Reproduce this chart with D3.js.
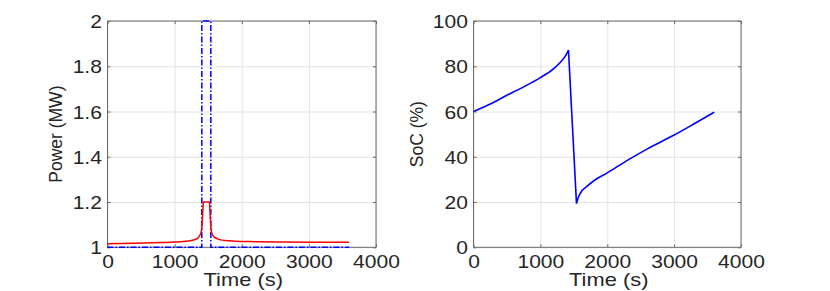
<!DOCTYPE html>
<html lang="en">
<head>
<meta charset="utf-8">
<title>Power and SoC</title>
<script src="https://cdn.jsdelivr.net/npm/d3@7"></script>
<style>
  body { margin: 0; background: #fff; }
  svg text { font-family: "Liberation Sans", Arial, sans-serif; fill: #262626; }
</style>
</head>
<body>
<script>
// tick labels
var timeTicks = [0, 1000, 2000, 3000, 4000];
var powerTicks = [1, 1.2, 1.4, 1.6, 1.8, 2];
var socTicks = [0, 20, 40, 60, 80, 100];

// red power curve
var powerTime = [0, 400, 800, 1000, 1200, 1300, 1350, 1380, 1400, 1410, 1428, 1520, 1535, 1545, 1560, 1590, 1650, 1750, 1900, 2200, 2600, 3000, 3600];
var powerRed  = [1.016, 1.018, 1.021, 1.023, 1.028, 1.034, 1.042, 1.055, 1.075, 1.11, 1.2, 1.2, 1.11, 1.075, 1.058, 1.045, 1.036, 1.030, 1.027, 1.025, 1.023, 1.022, 1.022];

// blue dash-dot power
var blueTime  = [0, 1405, 1405, 1539, 1539, 3600];
var powerBlue = [1, 1, 2, 2, 1, 1];

// state of charge
var socTime = [0, 250, 500, 750, 1000, 1200, 1300, 1380, 1420, 1540, 1570, 1600, 1700, 1800, 2000, 2300, 2600, 3000, 3300, 3600];
var soc     = [60, 63.3, 67.2, 70.9, 75, 79, 81.8, 84.8, 87.2, 19.3, 22.2, 24, 27, 29.4, 32.9, 38.4, 43.5, 49.6, 54.6, 59.7];

var W = 830, H = 291;
var stretch = 1.17;
var axisColor = "#6a6a6a";

var svg = d3.select("body").append("svg")
    .attr("width", W)
    .attr("height", H);

function styleTicks(a) {
  a.select(".domain").remove();
  a.selectAll("line").attr("stroke", axisColor);
}

function panel(left, right, top, bottom, yDomain, yTicks, yFmt, yLabel, yLabelX) {
  var x = d3.scaleLinear().domain([0, 4000]).range([left, right]);
  var y = d3.scaleLinear().domain(yDomain).range([bottom, top]);
  var g = svg.append("g");

  // grid
  g.append("g")
    .attr("transform", "translate(0," + bottom + ")")
    .call(d3.axisBottom(x).tickValues(timeTicks).tickSize(-(bottom - top)).tickFormat(""))
    .call(function(a) { a.select(".domain").remove(); a.selectAll("line").attr("stroke", "#e4e4e4"); });
  g.append("g")
    .attr("transform", "translate(" + left + ",0)")
    .call(d3.axisLeft(y).tickValues(yTicks).tickSize(-(right - left)).tickFormat(""))
    .call(function(a) { a.select(".domain").remove(); a.selectAll("line").attr("stroke", "#e4e4e4"); });

  // box
  g.append("rect")
    .attr("x", left).attr("y", top)
    .attr("width", right - left).attr("height", bottom - top)
    .attr("fill", "none").attr("stroke", axisColor).attr("stroke-width", 1);

  // top/right inner ticks
  g.append("g")
    .attr("transform", "translate(0," + top + ")")
    .call(d3.axisTop(x).tickValues(timeTicks).tickSize(-3).tickFormat(""))
    .call(styleTicks);
  g.append("g")
    .attr("transform", "translate(" + right + ",0)")
    .call(d3.axisRight(y).tickValues(yTicks).tickSize(-3).tickFormat(""))
    .call(styleTicks);

  // bottom axis
  g.append("g")
    .attr("transform", "translate(0," + bottom + ")")
    .call(d3.axisBottom(x).tickValues(timeTicks).tickSize(-3).tickFormat(d3.format("d")))
    .call(styleTicks)
    .call(function(a) {
      a.selectAll("text")
        .attr("y", 20.5).attr("dy", 0)
        .attr("font-size", 18)
        .attr("font-family", "Liberation Sans, Arial, sans-serif")
        .attr("fill", "#262626")
        .attr("transform", "scale(" + stretch + ",1)");
    });

  // left axis
  g.append("g")
    .attr("transform", "translate(" + left + ",0)")
    .call(d3.axisLeft(y).tickValues(yTicks).tickSize(-3).tickFormat(yFmt))
    .call(styleTicks)
    .call(function(a) {
      a.selectAll("text")
        .attr("x", -4.8).attr("dy", "0.36em")
        .attr("font-size", 18)
        .attr("font-family", "Liberation Sans, Arial, sans-serif")
        .attr("fill", "#262626")
        .attr("transform", "scale(" + stretch + ",1)");
    });

  // labels
  g.append("text")
    .attr("transform", "translate(" + ((left + right) / 2 + 1.5) + ",285.5) scale(1.25,1)")
    .attr("text-anchor", "middle")
    .attr("font-size", 17.5)
    .text("Time (s)");
  g.append("text")
    .attr("transform", "translate(" + yLabelX + "," + ((top + bottom) / 2) + ") rotate(-90)")
    .attr("text-anchor", "middle")
    .attr("font-size", 17.5)
    .text(yLabel);

  return {x: x, y: y, g: g};
}

var p1 = panel(107.5, 376, 21, 247.3, [1, 2], powerTicks, function(d) { return String(+d.toFixed(1)); }, "Power (MW)", 61.5);
var p2 = panel(473.5, 741, 21, 247.3, [0, 100], socTicks, d3.format("d"), "SoC (%)", 422.5);

var line1 = d3.line().x(function(d) { return p1.x(d[0]); }).y(function(d) { return p1.y(d[1]); });

p1.g.append("path")
  .datum(d3.zip(blueTime, powerBlue))
  .attr("d", line1)
  .attr("fill", "none")
  .attr("stroke", "#0000ff")
  .attr("stroke-width", 1.5)
  .attr("stroke-dasharray", "6,2,1.5,2");

// red: smooth on each side of the plateau
var redPts = d3.zip(powerTime, powerRed);
var smooth1 = d3.line().curve(d3.curveMonotoneX)
  .x(function(d) { return p1.x(d[0]); }).y(function(d) { return p1.y(d[1]); });
var iTop0 = powerTime.indexOf(1428), iTop1 = powerTime.indexOf(1520);
p1.g.append("path")
  .attr("d", smooth1(redPts.slice(0, iTop0 + 1)) + "L" + smooth1(redPts.slice(iTop0, iTop1 + 1)).slice(1) +
             "L" + smooth1(redPts.slice(iTop1)).slice(1))
  .attr("fill", "none")
  .attr("stroke", "#ff0000")
  .attr("stroke-width", 1.5);

// soc: smooth rise, straight drop, smooth recovery
var socPts = d3.zip(socTime, soc);
var smooth2 = d3.line().curve(d3.curveMonotoneX)
  .x(function(d) { return p2.x(d[0]); }).y(function(d) { return p2.y(d[1]); });
var iPeak = soc.indexOf(d3.max(soc)), iLow = soc.indexOf(d3.min(soc));
p2.g.append("path")
  .attr("d", smooth2(socPts.slice(0, iPeak + 1)) + "L" + smooth2(socPts.slice(iLow)).slice(1))
  .attr("fill", "none")
  .attr("stroke", "#0000ff")
  .attr("stroke-width", 1.6);
</script>
</body>
</html>
